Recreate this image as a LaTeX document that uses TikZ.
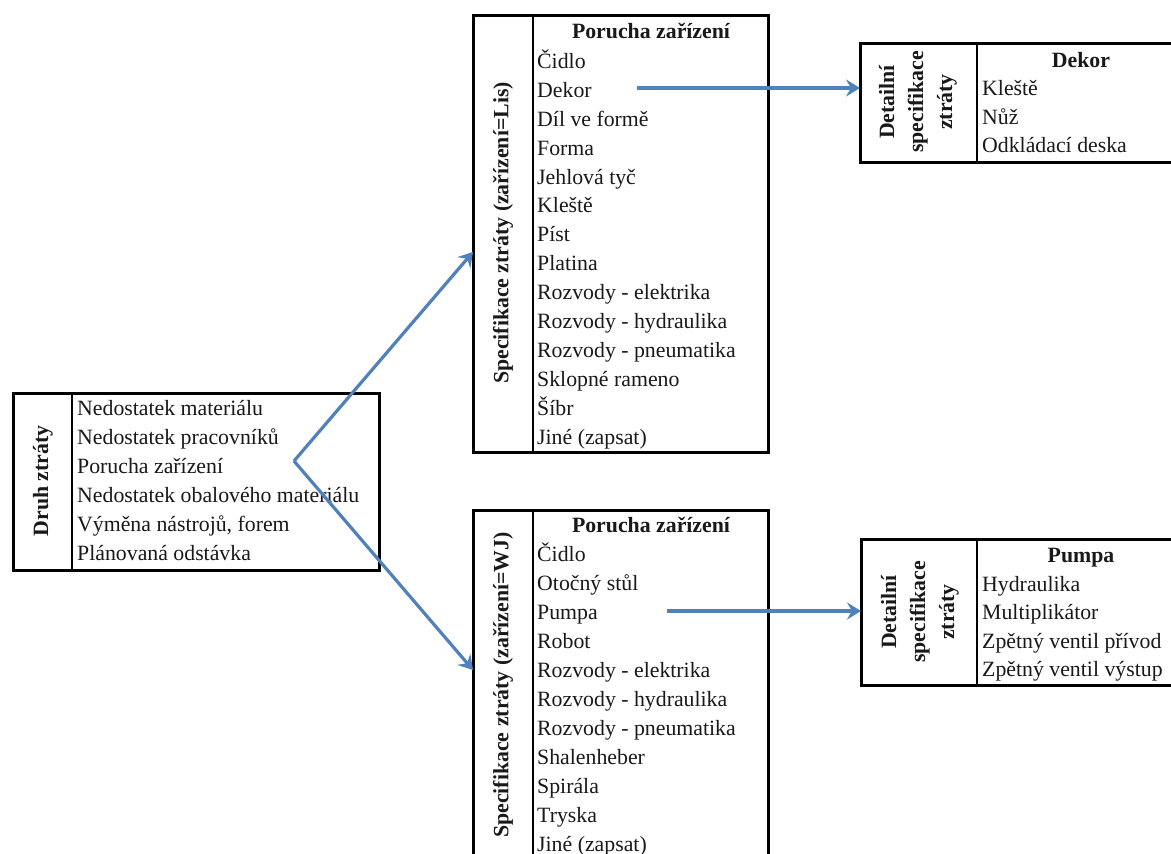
\documentclass[tikz,border=0pt]{standalone}
\usepackage{fontspec}
\setmainfont{Liberation Serif}
\usetikzlibrary{arrows.meta}
\definecolor{arrowblue}{RGB}{79,129,189}
\definecolor{txt}{RGB}{25,25,25}
\newcommand{\diagfont}{\fontsize{21.8pt}{29pt}\selectfont}
\tikzset{
  box/.style={draw=black, line width=3pt, anchor=north west, inner sep=0pt, outer sep=0pt},
  divline/.style={draw=black, line width=2pt},
  rowtext/.style={anchor=base west, inner sep=0pt, text=txt, font=\diagfont},
  headtext/.style={anchor=base, inner sep=0pt, font=\diagfont\bfseries, text=txt},
  sidelabel/.style={rotate=90, inner sep=0pt, font=\diagfont\bfseries, align=center, text=txt},
  conn/.style={draw=arrowblue, line width=3.2pt, -{Stealth[length=14pt,width=17pt,inset=5pt]}}
}
\begin{document}
\begin{tikzpicture}[x=1pt, y=-1pt, font=\diagfont]
\useasboundingbox (0,0) rectangle (1171,854);
\clip (0,0) rectangle (1171,854);
\fill[white] (0,0) rectangle (1171,854);

% ---------- Left box: Druh ztráty ----------
\node[box, minimum width=366pt, minimum height=177pt] (druh) at (13,393) {};
\draw[divline] (72,393) -- (72,570);
\node[sidelabel] (druhlab) at (43,481) {Druh ztráty};
\node[rowtext] (d1) at (77,415) {Nedostatek materiálu};
\node[rowtext] (d2) at (77,444) {Nedostatek pracovníků};
\node[rowtext] (d3) at (77,473) {Porucha zařízení};
\node[rowtext] (d4) at (77,502) {Nedostatek obalového materiálu};
\node[rowtext] (d5) at (77,531) {Výměna nástrojů, forem};
\node[rowtext] (d6) at (77,560) {Plánovaná odstávka};

% ---------- Top middle box: Lis ----------
\node[box, minimum width=295pt, minimum height=437pt] (lis) at (473,15) {};
\draw[divline] (533,15) -- (533,452);
\node[sidelabel] (lislab) at (503,233) {Specifikace ztráty (zařízení=Lis)};
\node[headtext] (lishead) at (651,38) {Porucha zařízení};
\node[rowtext] (l1) at (537,68) {Čidlo};
\node[rowtext] (l2) at (537,97) {Dekor};
\node[rowtext] (l3) at (537,126) {Díl ve formě};
\node[rowtext] (l4) at (537,155) {Forma};
\node[rowtext] (l5) at (537,184) {Jehlová tyč};
\node[rowtext] (l6) at (537,212) {Kleště};
\node[rowtext] (l7) at (537,241) {Píst};
\node[rowtext] (l8) at (537,270) {Platina};
\node[rowtext] (l9) at (537,299) {Rozvody - elektrika};
\node[rowtext] (l10) at (537,328) {Rozvody - hydraulika};
\node[rowtext] (l11) at (537,357) {Rozvody - pneumatika};
\node[rowtext] (l12) at (537,386) {Sklopné rameno};
\node[rowtext] (l13) at (537,415) {Šíbr};
\node[rowtext] (l14) at (537,444) {Jiné (zapsat)};

% ---------- Bottom middle box: WJ ----------
\node[box, minimum width=295pt, minimum height=350pt] (wj) at (473,510) {};
\draw[divline] (533,510) -- (533,860);
\node[sidelabel] (wjlab) at (503,685) {Specifikace ztráty (zařízení=WJ)};
\node[headtext] (wjhead) at (651,532) {Porucha zařízení};
\node[rowtext] (w1) at (537,561) {Čidlo};
\node[rowtext] (w2) at (537,590) {Otočný stůl};
\node[rowtext] (w3) at (537,619) {Pumpa};
\node[rowtext] (w4) at (537,648) {Robot};
\node[rowtext] (w5) at (537,677) {Rozvody - elektrika};
\node[rowtext] (w6) at (537,706) {Rozvody - hydraulika};
\node[rowtext] (w7) at (537,735) {Rozvody - pneumatika};
\node[rowtext] (w8) at (537,764) {Shalenheber};
\node[rowtext] (w9) at (537,793) {Spirála};
\node[rowtext] (w10) at (537,822) {Tryska};
\node[rowtext] (w11) at (537,851) {Jiné (zapsat)};

% ---------- Top right box: Dekor ----------
\node[box, minimum width=325pt, minimum height=119pt] (dekor) at (860,43) {};
\draw[divline] (977,43) -- (977,162);
\node[sidelabel] (dekorlab) at (918,102) {Detailní\\specifikace\\ztráty};
\node[headtext] (dekorhead) at (1081,67) {Dekor};
\node[rowtext] (k1) at (982,95.5) {Kleště};
\node[rowtext] (k2) at (982,124) {Nůž};
\node[rowtext] (k3) at (982,152.5) {Odkládací deska};

% ---------- Bottom right box: Pumpa ----------
\node[box, minimum width=325pt, minimum height=146pt] (pumpa) at (861,539) {};
\draw[divline] (977,539) -- (977,685);
\node[sidelabel] (pumpalab) at (920,612) {Detailní\\specifikace\\ztráty};
\node[headtext] (pumpahead) at (1081,562) {Pumpa};
\node[rowtext] (p1) at (982,591) {Hydraulika};
\node[rowtext] (p2) at (982,619.5) {Multiplikátor};
\node[rowtext] (p3) at (982,648) {Zpětný ventil přívod};
\node[rowtext] (p4) at (982,676) {Zpětný ventil výstup};

% ---------- Connectors ----------
\coordinate (vtx) at (294,461);
\coordinate (lisin) at (lis.west |- 0,252);
\coordinate (wjin) at (wj.west |- 0,670);
\coordinate (dekorout) at (637,88);
\coordinate (dekorin) at (dekor.west |- dekorout);
\coordinate (pumpaout) at (667,611);
\coordinate (pumpain) at (pumpa.west |- pumpaout);

\draw[conn] (vtx) -- (lisin);
\draw[conn] (vtx) -- (wjin);
\draw[conn] (dekorout) -- (dekorin);
\draw[conn] (pumpaout) -- (pumpain);
\end{tikzpicture}
\end{document}
